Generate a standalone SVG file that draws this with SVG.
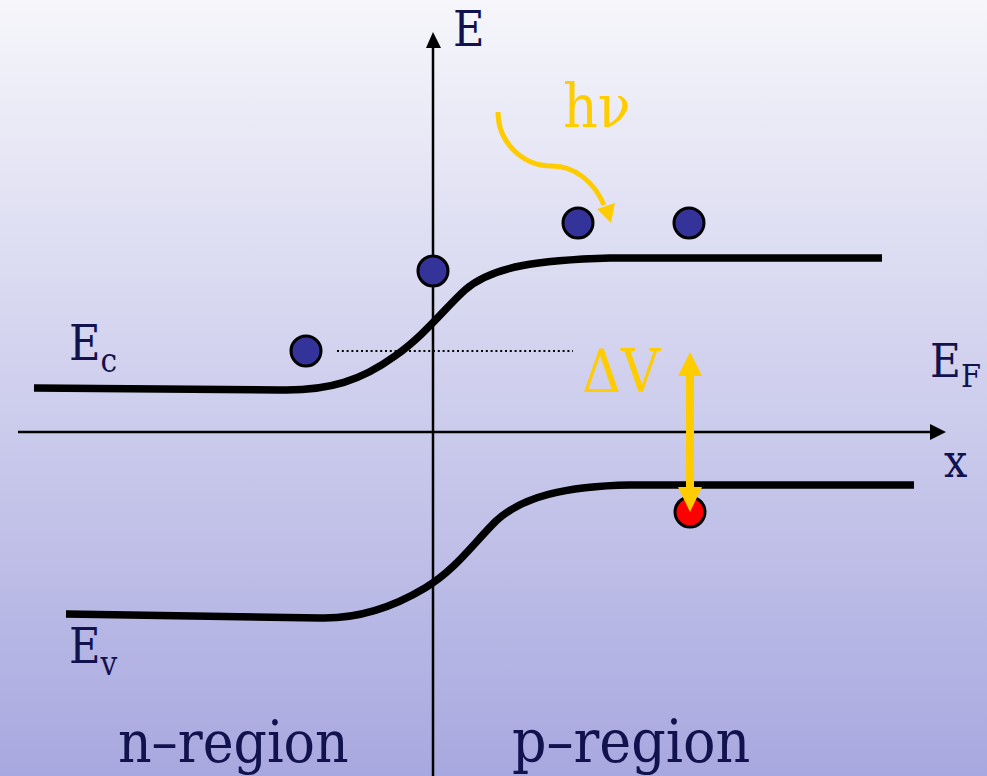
<svg xmlns="http://www.w3.org/2000/svg" width="987" height="776" viewBox="0 0 987 776">
<defs>
<linearGradient id="bg" x1="0" y1="0" x2="0" y2="1">
<stop offset="0" stop-color="#f6f6fb"/>
<stop offset="1" stop-color="#a8a8e0"/>
</linearGradient>
</defs>
<style>
.t{font-family:"DejaVu Serif Condensed","DejaVu Serif",serif;fill:#12124f}
.y{fill:#ffcc00}
.band{fill:none;stroke:#000;stroke-width:7.5}
.axis{fill:none;stroke:#000;stroke-width:2.5}
.e{fill:#333399;stroke:#000;stroke-width:3}
.h{fill:#ff0000;stroke:#000;stroke-width:3}
</style>
<rect width="987" height="776" fill="url(#bg)"/>
<g id="axes">
<line class="axis" x1="433" y1="776" x2="433" y2="45"/>
<polygon points="433,32 426,48 441,48" fill="#000"/>
<line class="axis" x1="18" y1="432" x2="932" y2="432"/>
<polygon points="946,432 930,424 930,440" fill="#000"/>
</g>
<g id="bands">
<path id="Ec" class="band" d="M34,388 L280,390 C330,391 362,380 395,356 C425,335 445,308 465,290 C492,266 540,260 610,258 L882,258"/>
<path id="Ev" class="band" d="M66,614 L320,618 C360,619 395,606 425,588 C455,570 472,545 496,521 C522,497 565,486 630,485 L914,485"/>
</g>
<g id="connectors">
<line x1="337" y1="351" x2="573" y2="351" stroke="#000" stroke-width="2" stroke-dasharray="2 2.8"/>
<path d="M498,112 C498,142 522,166 552,166 C575,166 594,182 604,205" fill="none" stroke="#ffcc00" stroke-width="5"/>
<polygon points="611,223 597,209 615,203" fill="#ffcc00"/>
<line x1="690" y1="372" x2="690" y2="490" stroke="#ffcc00" stroke-width="8"/>
<polygon points="690,352 678,376 702,376" fill="#ffcc00"/>
</g>
<g id="electrons">
<circle class="e" cx="306" cy="351" r="15"/>
<circle class="e" cx="433" cy="271" r="15"/>
<circle class="e" cx="578" cy="223" r="15"/>
<circle class="e" cx="689" cy="223" r="15"/>
</g>
<g id="hole">
<circle class="h" cx="690" cy="512" r="15"/>
<polygon points="690,512 678,487 702,487" fill="#ffcc00"/>
</g>
<g id="labels">
<text class="t" x="453" y="46" font-size="48">E</text>
<text class="t" x="69" y="360" font-size="48">E<tspan font-size="33" dy="12">c</tspan></text>
<text class="t" x="930" y="377" font-size="47">E<tspan font-size="32" dy="10">F</tspan></text>
<text class="t" x="944" y="477" font-size="46">x</text>
<text class="t" x="69" y="663" font-size="48">E<tspan font-size="33" dy="12">v</tspan></text>
<text class="t" x="118" y="762" font-size="58">n–region</text>
<text class="t" x="512" y="762" font-size="60">p–region</text>
<text class="t y" x="563" y="127" font-size="60">hν</text>
<text class="t y" x="582" y="392" font-size="60">ΔV</text>
</g>
</svg>
